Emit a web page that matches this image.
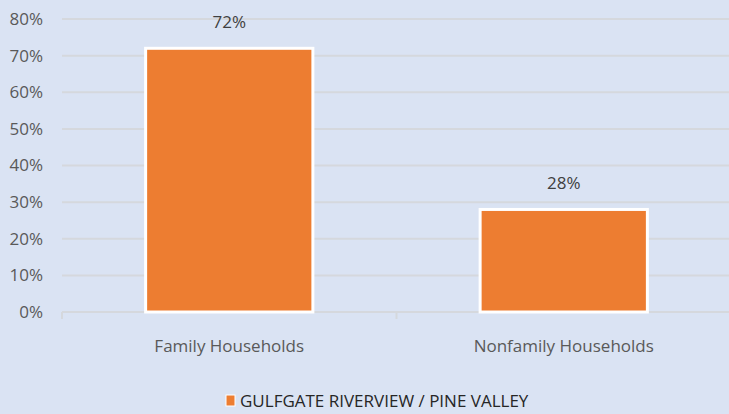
<!DOCTYPE html>
<html>
<head>
<meta charset="utf-8">
<script src="https://cdn.jsdelivr.net/npm/d3@7"></script>
<style>
  body { margin: 0; background: #dae3f3; }
  text { font-family: "Open Sans", sans-serif; }
</style>
</head>
<body>
<div id="chart"></div>
<script>
const width = 729;
const height = 414;
const margin = { left: 62, right: -2, top: 19, bottom: 102 };

const categories = ["Family Households", "Nonfamily Households"];
const values = [72, 28];
const yTicks = [0, 10, 20, 30, 40, 50, 60, 70, 80];
const seriesName = "GULFGATE RIVERVIEW / PINE VALLEY";

const barColor = "#ed7d31";
const gridColor = "#d5d8dd";
const labelColor = "#595959";

const svg = d3
  .select("#chart")
  .append("svg")
  .attr("width", width)
  .attr("height", height)
  .style("background", "#dae3f3");

const x = d3
  .scaleBand()
  .domain(categories)
  .range([margin.left, width - margin.right])
  .paddingInner(0.5)
  .paddingOuter(0.25);

const y = d3
  .scaleLinear()
  .domain([0, 80])
  .range([height - margin.bottom, margin.top]);

// gridlines
svg
  .selectAll(".grid")
  .data(yTicks)
  .join("line")
  .attr("class", "grid")
  .attr("x1", margin.left)
  .attr("x2", width - margin.right)
  .attr("y1", (d) => y(d))
  .attr("y2", (d) => y(d))
  .attr("stroke", gridColor)
  .attr("stroke-width", 2);

// y labels
svg
  .selectAll(".ytick")
  .data(yTicks)
  .join("text")
  .attr("class", "ytick")
  .attr("x", 43)
  .attr("y", (d) => y(d))
  .attr("dy", "0.35em")
  .attr("text-anchor", "end")
  .attr("fill", labelColor)
  .attr("font-size", 17)
  .text((d) => `${d}%`);

// category separators on x axis
const sepX = [margin.left, margin.left + (width - margin.right - margin.left) / 2];
svg
  .selectAll(".xsep")
  .data(sepX)
  .join("line")
  .attr("class", "xsep")
  .attr("x1", (d) => d)
  .attr("x2", (d) => d)
  .attr("y1", y(0))
  .attr("y2", y(0) + 7)
  .attr("stroke", gridColor)
  .attr("stroke-width", 2);

// bars
svg
  .selectAll(".bar")
  .data(values)
  .join("rect")
  .attr("class", "bar")
  .attr("x", (d, i) => x(categories[i]))
  .attr("y", (d) => y(d))
  .attr("width", x.bandwidth())
  .attr("height", (d) => y(0) - y(d))
  .attr("fill", barColor)
  .attr("stroke", "#ffffff")
  .attr("stroke-width", 3);

// value labels
svg
  .selectAll(".vlabel")
  .data(values)
  .join("text")
  .attr("class", "vlabel")
  .attr("x", (d, i) => x(categories[i]) + x.bandwidth() / 2)
  .attr("y", (d) => y(d) - 20)
  .attr("text-anchor", "middle")
  .attr("fill", "#404040")
  .attr("font-size", 17)
  .text((d) => `${d}%`);

// category labels
svg
  .selectAll(".xlabel")
  .data(categories)
  .join("text")
  .attr("class", "xlabel")
  .attr("x", (d) => x(d) + x.bandwidth() / 2)
  .attr("y", 352)
  .attr("text-anchor", "middle")
  .attr("fill", labelColor)
  .attr("font-size", 17)
  .text((d) => d);

// legend
const legend = svg.append("g").attr("transform", "translate(226, 401)");
legend
  .append("rect")
  .attr("x", 0)
  .attr("y", -6)
  .attr("width", 9)
  .attr("height", 11)
  .attr("fill", barColor)
  .attr("stroke", "#ffffff")
  .attr("stroke-width", 1);
legend
  .append("text")
  .attr("x", 14)
  .attr("y", 0)
  .attr("dy", "0.35em")
  .attr("fill", "#262626")
  .attr("font-size", 17)
  .text(seriesName);
</script>
</body>
</html>
